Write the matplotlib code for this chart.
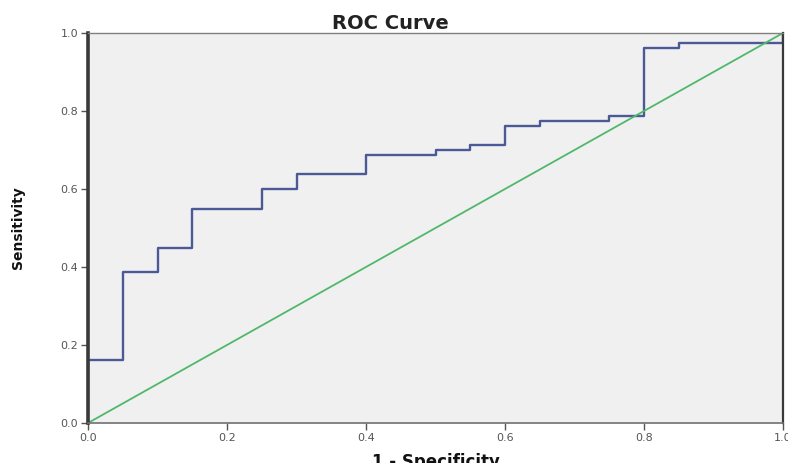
import matplotlib
matplotlib.use("Agg")
import matplotlib.pyplot as plt

# ROC step points (1 - specificity, sensitivity)
fpr = [0.0, 0.0, 0.05, 0.10, 0.15, 0.25, 0.30, 0.40, 0.50, 0.55,
       0.60, 0.65, 0.75, 0.80, 0.85, 1.0]
tpr = [0.0, 0.1625, 0.3875, 0.45, 0.55, 0.60, 0.6375, 0.6875, 0.70, 0.7125,
       0.7625, 0.775, 0.7875, 0.9625, 0.975, 1.0]
ref_x = [0.0, 1.0]
ref_y = [0.0, 1.0]
ticks = [0.0, 0.2, 0.4, 0.6, 0.8, 1.0]
tick_labels = ["0.0", "0.2", "0.4", "0.6", "0.8", "1.0"]

fig = plt.figure(figsize=(7.88, 4.63), dpi=100)
ax = fig.add_axes([88 / 788, 40 / 463, 695 / 788, 390 / 463])
ax.set_facecolor("#f0f0f0")

ax.step(fpr, tpr, where="post", color="#4b5a96", lw=1.7)
ax.plot(ref_x, ref_y, color="#4fb86a", lw=1.3)

ax.set_xlim(0, 1)
ax.set_ylim(0, 1)
ax.set_xticks(ticks)
ax.set_yticks(ticks)
ax.set_xticklabels(tick_labels)
ax.set_yticklabels(tick_labels)
ax.tick_params(axis="both", direction="out", length=5, width=1,
               color="#555555", labelsize=8, labelcolor="#555555", pad=2)

ax.spines["left"].set_linewidth(2.6)
ax.spines["left"].set_color("#3a3a3a")
ax.spines["right"].set_linewidth(1.6)
ax.spines["right"].set_color("#3a3a3a")
ax.spines["top"].set_linewidth(1.0)
ax.spines["top"].set_color("#808080")
ax.spines["bottom"].set_linewidth(1.2)
ax.spines["bottom"].set_color("#707070")

fig.text(390 / 788, 1 - 14 / 463, "ROC Curve", ha="center", va="top",
         fontsize=14, fontweight="bold", color="#222222")
fig.text(436 / 788, -4 / 463, "1 - Specificity", ha="center", va="baseline",
         fontsize=12, fontweight="bold", color="#111111")
fig.text(18 / 788, 1 - 228 / 463, "Sensitivity", ha="center", va="center",
         rotation=90, fontsize=10, fontweight="bold", color="#111111")

fig.savefig("out.png", dpi=100)
